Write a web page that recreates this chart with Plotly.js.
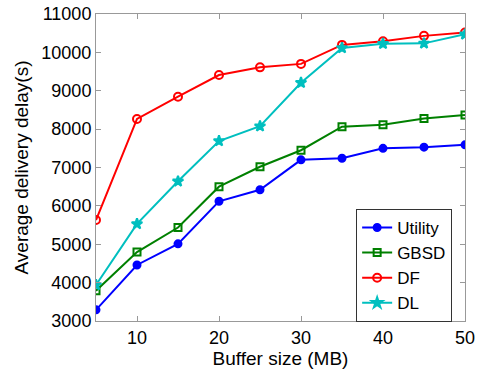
<!DOCTYPE html>
<html>
<head>
<meta charset="utf-8">
<script src="https://cdn.plot.ly/plotly-3.0.1.min.js"></script>
<style>html,body{margin:0;padding:0;background:#fff;}#chart{width:477px;height:371px;}</style>
</head>
<body>
<div id="chart"></div>
<script>
var bufferSize = [5, 10, 15, 20, 25, 30, 35, 40, 45, 50];
var utility = [3290, 4460, 5010, 6120, 6420, 7200, 7240, 7500, 7530, 7590];
var gbsd    = [3790, 4795, 5435, 6500, 7020, 7450, 8065, 8115, 8275, 8370];
var df      = [5630, 8265, 8845, 9410, 9610, 9700, 10195, 10290, 10430, 10520];
var dl      = [3940, 5530, 6640, 7690, 8075, 9210, 10115, 10225, 10235, 10470];
var seriesNames = ['Utility', 'GBSD', 'DF', 'DL'];
var xTicks = [10, 20, 30, 40, 50];

var font = 'Arial, "Liberation Sans", sans-serif';
function tr(y, name, color, symbol, size) {
  return {
    x: bufferSize, y: y, name: name, type: 'scatter', mode: 'lines+markers',
    line: {color: color, width: 2},
    marker: {color: color, symbol: symbol, size: size,
             line: {color: color, width: 2}}
  };
}
var data = [
  tr(utility, seriesNames[0], '#0000FF', 'circle', 7),
  tr(gbsd, seriesNames[1], '#008000', 'square-open', 7),
  tr(df, seriesNames[2], '#FF0000', 'circle-open', 8),
  tr(dl, seriesNames[3], '#00BFBF', 'star', 8)
];
var axisCommon = {
  showline: true, linecolor: '#999999', linewidth: 1, mirror: 'ticks',
  ticks: 'inside', ticklen: 5, tickcolor: '#999999', showgrid: false, zeroline: false,
  tickfont: {family: font, size: 18, color: '#000'}
};
var layout = {
  width: 477, height: 371,
  margin: {l: 96, r: 12, t: 14, b: 50},
  paper_bgcolor: '#fff', plot_bgcolor: '#fff',
  showlegend: true,
  xaxis: Object.assign({}, axisCommon, {
    range: [5, 50], tickvals: xTicks, ticktext: xTicks.map(String),
    title: {text: 'Buffer size (MB)', font: {family: font, size: 19, color: '#000'}, standoff: 3}
  }),
  yaxis: Object.assign({}, axisCommon, {
    range: [3000, 11000], dtick: 1000, tickformat: 'd',
    title: {text: 'Average delivery delay(s)', font: {family: font, size: 19, color: '#000'}, standoff: 7}
  }),
  legend: {
    x: 0.705, y: 0.365, xanchor: 'left', yanchor: 'top',
    bgcolor: '#fff', bordercolor: '#333', borderwidth: 1,
    font: {family: font, size: 17, color: '#000'}
  }
};
Plotly.newPlot('chart', data, layout, {displayModeBar: false, staticPlot: true});
</script>
</body>
</html>
